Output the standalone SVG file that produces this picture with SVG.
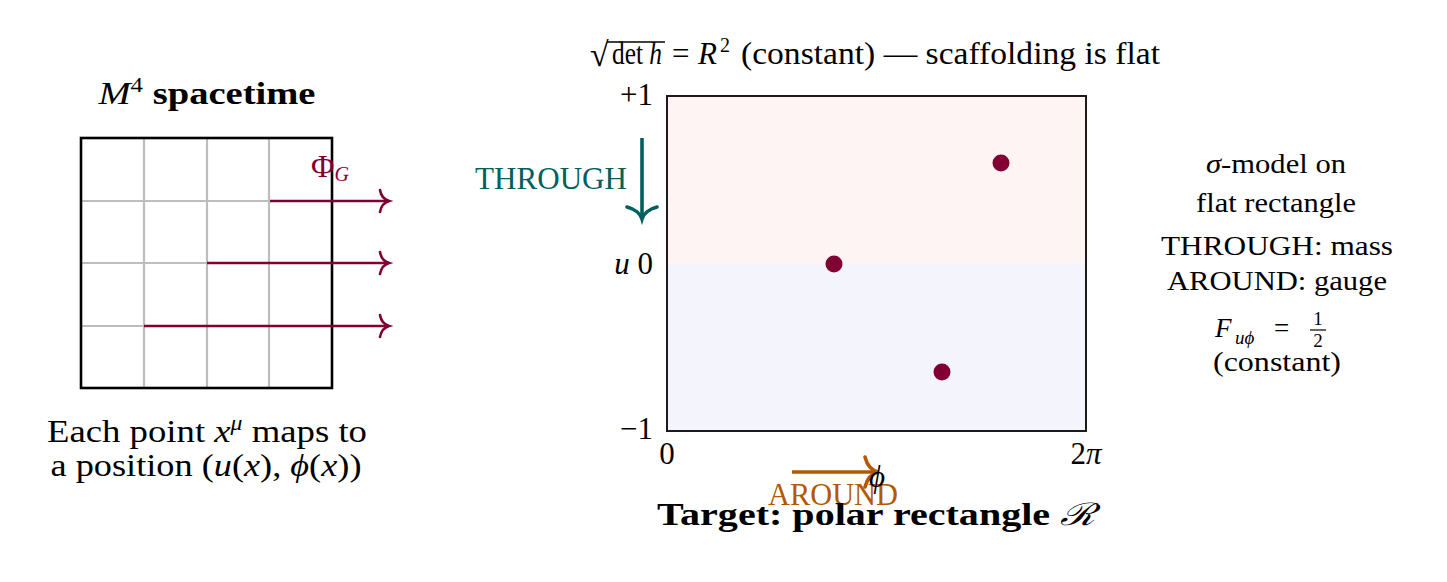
<svg xmlns="http://www.w3.org/2000/svg" width="1447" height="582" viewBox="0 0 1447 582">
<style>
text{font-family:"Liberation Serif","DejaVu Serif",serif;fill:#000}
.m{font-size:31px}
.s{font-size:27px}
.i{font-style:italic}
.b{font-weight:bold}
.sub{font-size:20px}
.grid{stroke:#bdbdbd;stroke-width:2.2}
.pa{stroke:#800033;stroke-width:2.6;fill:none}
</style>
<defs>
<marker id="toP" markerUnits="userSpaceOnUse" viewBox="-14 -14 16 28" refX="0" refY="0" markerWidth="16" markerHeight="28" orient="auto" overflow="visible">
<path d="M -9 -11 C -8 -5 -4 -1.2 0 0 C -4 1.2 -8 5 -9 11" fill="none" stroke="#800033" stroke-width="2.6" stroke-linecap="round"/>
</marker>
<marker id="toT" markerUnits="userSpaceOnUse" viewBox="-16 -18 18 36" refX="0" refY="0" markerWidth="18" markerHeight="36" orient="auto" overflow="visible">
<path d="M -12 -15 C -10 -7 -5 -1.5 0 0 C -5 1.5 -10 7 -12 15" fill="none" stroke="#005f5f" stroke-width="3.6" stroke-linecap="round"/>
</marker>
<marker id="toO" markerUnits="userSpaceOnUse" viewBox="-18 -18 20 36" refX="0" refY="0" markerWidth="20" markerHeight="36" orient="auto" overflow="visible">
<path d="M -13 -15 C -11 -7 -6 -1.5 0 0 C -6 1.5 -11 7 -13 15" fill="none" stroke="#b35900" stroke-width="3.6" stroke-linecap="round"/>
</marker>
</defs>

<g id="spacetime">
<text class="m" x="207" y="104" text-anchor="middle" textLength="217" lengthAdjust="spacingAndGlyphs"><tspan class="i">M</tspan><tspan class="sub" dy="-12">4</tspan><tspan class="b" dy="12"> spacetime</tspan></text>
<line class="grid" x1="144" y1="138" x2="144" y2="388"/>
<line class="grid" x1="207" y1="138" x2="207" y2="388"/>
<line class="grid" x1="269" y1="138" x2="269" y2="388"/>
<line class="grid" x1="81" y1="201" x2="332" y2="201"/>
<line class="grid" x1="81" y1="263" x2="332" y2="263"/>
<line class="grid" x1="81" y1="326" x2="332" y2="326"/>
<rect x="81" y="138" width="251" height="250" fill="none" stroke="#000" stroke-width="2.6"/>
<text x="311" y="177" style="fill:#800033;font-size:32px">Φ<tspan class="i sub" dy="4">G</tspan></text>
<text class="m" x="207" y="442" text-anchor="middle" textLength="320" lengthAdjust="spacingAndGlyphs">Each point <tspan class="i">x</tspan><tspan class="i sub" dy="-12">μ</tspan><tspan dy="12"> maps to</tspan></text>
<text class="m" x="206" y="476" text-anchor="middle" textLength="311" lengthAdjust="spacingAndGlyphs">a position (<tspan class="i">u</tspan>(<tspan class="i">x</tspan>), <tspan class="i">ϕ</tspan>(<tspan class="i">x</tspan>))</text>
</g>

<g id="connectors">
<line class="pa" x1="270" y1="201" x2="389" y2="201" marker-end="url(#toP)"/>
<line class="pa" x1="207" y1="263" x2="389" y2="263" marker-end="url(#toP)"/>
<line class="pa" x1="144" y1="326" x2="389" y2="326" marker-end="url(#toP)"/>
<line x1="642" y1="138" x2="642" y2="219" stroke="#005f5f" stroke-width="3.6" marker-end="url(#toT)"/>
<line x1="792" y1="472" x2="878" y2="472" stroke="#b35900" stroke-width="3.6" marker-end="url(#toO)"/>
</g>

<g id="formula">
<text x="590" y="66" style="font-size:34px">√</text>
<line x1="607" y1="42" x2="665" y2="42" stroke="#000" stroke-width="1.4"/>
<text class="m" x="612" y="64" textLength="50" lengthAdjust="spacingAndGlyphs">det <tspan class="i">h</tspan></text>
<text class="m" x="672" y="64">=</text>
<text class="m i" x="698" y="64">R</text>
<text class="sub" x="720" y="52">2</text>
<text class="m" x="741" y="64" textLength="419" lengthAdjust="spacingAndGlyphs">(constant) — scaffolding is flat</text>
</g>

<g id="rectangle">
<rect x="667" y="96" width="419" height="168" fill="#fff4f4"/>
<rect x="667" y="264" width="419" height="167" fill="#f4f4fd"/>
<rect x="667" y="96" width="419" height="335" fill="none" stroke="#1e1a1a" stroke-width="2"/>
<circle cx="1001" cy="163" r="8.5" fill="#800033"/>
<circle cx="834" cy="264" r="8.5" fill="#800033"/>
<circle cx="942" cy="372" r="8.5" fill="#800033"/>
<text class="m" x="653" y="105" text-anchor="end">+1</text>
<text class="m" x="653" y="274" text-anchor="end"><tspan class="i">u</tspan> 0</text>
<text class="m" x="653" y="439" text-anchor="end">−1</text>
<text class="m" x="667" y="464" text-anchor="middle">0</text>
<text class="m" x="1086" y="464" text-anchor="middle">2<tspan class="i">π</tspan></text>
<text class="m" x="627" y="189" text-anchor="end" textLength="152" lengthAdjust="spacingAndGlyphs" style="fill:#005f5f">THROUGH</text>
<text class="m" x="833" y="505" text-anchor="middle" textLength="130" lengthAdjust="spacingAndGlyphs" style="fill:#b35900">AROUND</text>
<text class="m i" x="877" y="487" text-anchor="middle">ϕ</text>
<text class="m b" x="876" y="525" text-anchor="middle" textLength="438" lengthAdjust="spacingAndGlyphs">Target: polar rectangle <tspan class="i" style="font-weight:normal">ℛ</tspan></text>
</g>

<g id="notes">
<text class="s" x="1276" y="173" text-anchor="middle" textLength="140" lengthAdjust="spacingAndGlyphs"><tspan class="i">σ</tspan>-model on</text>
<text class="s" x="1276" y="212" text-anchor="middle" textLength="160" lengthAdjust="spacingAndGlyphs">flat rectangle</text>
<text class="s" x="1277" y="255" text-anchor="middle" textLength="232" lengthAdjust="spacingAndGlyphs">THROUGH: mass</text>
<text class="s" x="1277" y="290" text-anchor="middle" textLength="220" lengthAdjust="spacingAndGlyphs">AROUND: gauge</text>
<text class="s i" x="1215" y="337">F</text>
<text class="i" style="font-size:19px" x="1235" y="344">uϕ</text>
<text class="s" x="1274" y="337">=</text>
<text style="font-size:19px" x="1318" y="325" text-anchor="middle">1</text>
<line x1="1310" y1="330" x2="1326" y2="330" stroke="#000" stroke-width="1.2"/>
<text style="font-size:19px" x="1318" y="347" text-anchor="middle">2</text>
<text class="s" x="1277" y="371" text-anchor="middle" textLength="128" lengthAdjust="spacingAndGlyphs">(constant)</text>
</g>
</svg>
